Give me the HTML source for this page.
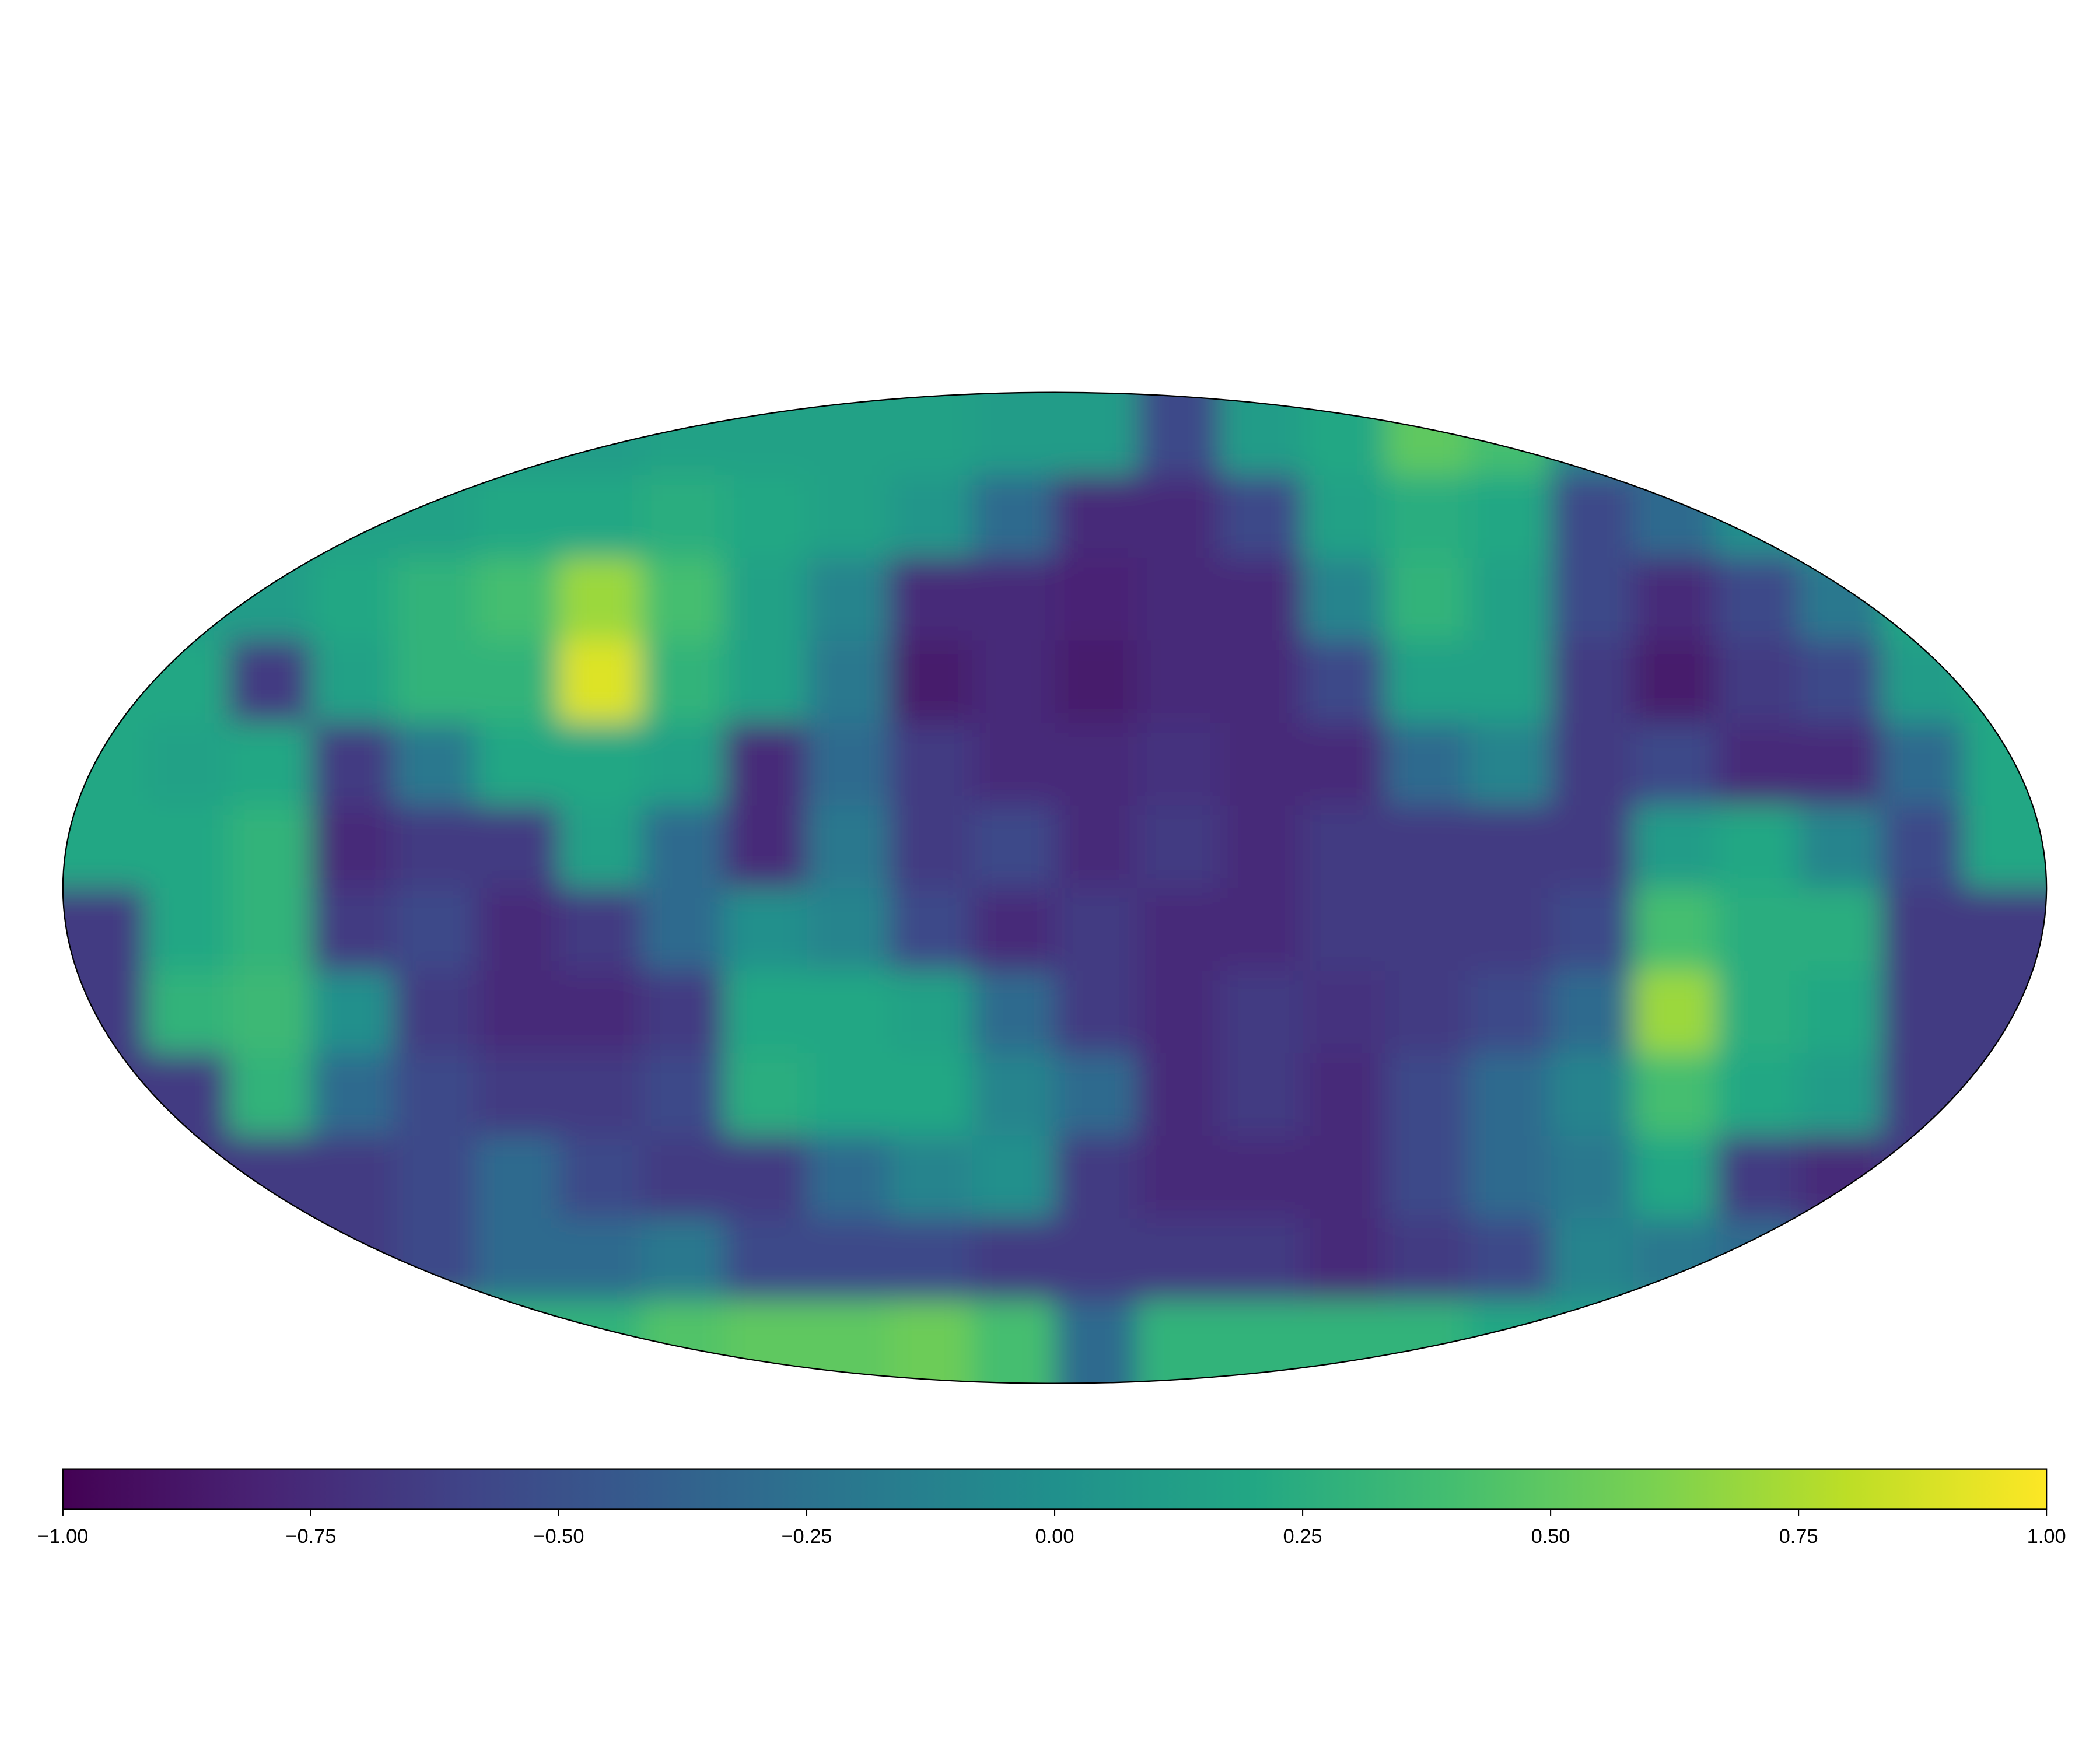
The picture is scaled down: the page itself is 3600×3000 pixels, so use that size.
<!DOCTYPE html>
<html><head><meta charset="utf-8"><style>
html,body{margin:0;padding:0;background:#fff;}
svg{display:block;}
</style></head><body>
<svg id="chart" width="3600" height="3000" viewBox="0 0 1568 1306.67" xmlns="http://www.w3.org/2000/svg">
<defs>
<clipPath id="ellclip"><ellipse cx="787.5" cy="663" rx="740.5" ry="370"/></clipPath>
<filter id="blur" x="-10%" y="-10%" width="120%" height="120%"><feGaussianBlur stdDeviation="11"/></filter>
<linearGradient id="cbgrad" x1="0" x2="1" y1="0" y2="0"></linearGradient>
</defs>
<g clip-path="url(#ellclip)">
<g id="cells" filter="url(#blur)"></g>
</g>
<ellipse cx="787.5" cy="663" rx="740.5" ry="370" fill="none" stroke="#000" stroke-width="1"/>
<rect x="47" y="1097" width="1481" height="30" fill="url(#cbgrad)" stroke="#000" stroke-width="1"/>
<g id="ticks"></g>
</svg>
<script>
const gridRows = [
[0.1,0.1,0.1,0.1,0.1,0.1,0.1,0.15,0.15,0.15,0.15,0.1,0.1,-0.55,0.1,0.2,0.5,0.4,-0.1,-0.3,-0.3,-0.3,-0.3,-0.3],
[0.1,0.1,0.1,0.15,0.15,0.2,0.2,0.25,0.2,0.15,0.05,-0.3,-0.75,-0.75,-0.55,0.15,0.25,0.2,-0.55,-0.3,0.0,0.1,0.1,0.1],
[0.1,0.1,0.1,0.2,0.3,0.4,0.7,0.4,0.15,-0.1,-0.75,-0.75,-0.8,-0.75,-0.75,-0.1,0.3,0.15,-0.55,-0.75,-0.55,-0.2,0.2,0.2],
[0.2,0.2,-0.65,0.15,0.3,0.3,0.9,0.3,0.15,-0.2,-0.85,-0.75,-0.85,-0.75,-0.75,-0.55,0.15,0.15,-0.65,-0.85,-0.65,-0.55,0.1,0.2],
[0.2,0.15,0.2,-0.65,-0.2,0.2,0.2,0.15,-0.75,-0.3,-0.65,-0.75,-0.75,-0.7,-0.75,-0.75,-0.3,-0.1,-0.65,-0.55,-0.75,-0.75,-0.3,0.2],
[0.2,0.2,0.3,-0.75,-0.65,-0.65,0.15,-0.3,-0.75,-0.2,-0.65,-0.55,-0.75,-0.65,-0.75,-0.65,-0.65,-0.65,-0.65,0.1,0.2,-0.1,-0.55,0.2],
[-0.65,0.2,0.3,-0.65,-0.55,-0.75,-0.65,-0.3,0.0,-0.1,-0.55,-0.75,-0.65,-0.75,-0.75,-0.65,-0.65,-0.65,-0.55,0.4,0.25,0.25,-0.65,-0.65],
[-0.65,0.3,0.35,0.0,-0.65,-0.75,-0.75,-0.65,0.2,0.2,0.15,-0.3,-0.65,-0.75,-0.65,-0.7,-0.65,-0.55,-0.3,0.7,0.25,0.2,-0.65,-0.65],
[-0.65,-0.65,0.3,-0.3,-0.55,-0.65,-0.65,-0.55,0.25,0.2,0.2,-0.1,-0.3,-0.75,-0.65,-0.75,-0.55,-0.3,-0.1,0.4,0.2,0.1,-0.65,-0.65],
[-0.65,-0.65,-0.65,-0.65,-0.55,-0.3,-0.55,-0.65,-0.65,-0.3,-0.1,0.0,-0.65,-0.75,-0.75,-0.75,-0.55,-0.3,-0.2,0.2,-0.65,-0.75,-0.65,-0.65],
[-0.65,-0.65,-0.65,-0.65,-0.55,-0.3,-0.3,-0.2,-0.55,-0.55,-0.55,-0.65,-0.65,-0.65,-0.65,-0.75,-0.65,-0.55,-0.1,-0.2,-0.3,-0.55,-0.55,-0.55],
[0.3,0.3,0.3,0.3,0.3,0.3,0.3,0.45,0.5,0.5,0.55,0.4,-0.3,0.3,0.3,0.3,0.3,0.2,0.1,0.1,0.1,0.1,0.1,0.1]
];
const tickValues = [-1,-0.75,-0.5,-0.25,0,0.25,0.5,0.75,1];
const tickLabels = ["\u22121.00","\u22120.75","\u22120.50","\u22120.25","0.00","0.25","0.50","0.75","1.00"];

const VIR = [[68,1,84],[72,35,116],[64,67,135],[52,94,141],[41,120,142],[32,144,140],[34,167,132],[68,190,112],[121,209,81],[189,222,38],[253,231,37]];
function viridis(t){
  t=Math.max(0,Math.min(1,t));
  const p=t*(VIR.length-1), i=Math.min(Math.floor(p),VIR.length-2), f=p-i;
  const c=VIR[i].map((v,k)=>Math.round(v+(VIR[i+1][k]-v)*f));
  return `rgb(${c[0]},${c[1]},${c[2]})`;
}
const vmin=-1,vmax=1;
const colorOf=v=>viridis((v-vmin)/(vmax-vmin));
const NS="http://www.w3.org/2000/svg";
const x0=47,x1=1528,y0=293,y1=1033;
const nC=gridRows[0].length,nR=gridRows.length;
const cw=(x1-x0)/nC,ch=(y1-y0)/nR;
const cellsG=document.getElementById('cells');
gridRows.forEach((row,r)=>{
  row.forEach((v,c)=>{
    const rect=document.createElementNS(NS,'rect');
    let x=x0+c*cw,y=y0+r*ch,w=cw+0.5,h=ch+0.5;
    if(c===0){x-=60;w+=60;} if(c===nC-1){w+=60;}
    if(r===0){y-=60;h+=60;} if(r===nR-1){h+=60;}
    rect.setAttribute('x',x);rect.setAttribute('y',y);
    rect.setAttribute('width',w);rect.setAttribute('height',h);
    rect.setAttribute('fill',colorOf(v));
    
    
    cellsG.appendChild(rect);
  });
});
const grad=document.getElementById('cbgrad');
for(let i=0;i<=40;i++){
  const s=document.createElementNS(NS,'stop');
  s.setAttribute('offset',(i/40*100)+'%');
  s.setAttribute('stop-color',viridis(i/40));
  grad.appendChild(s);
}
const tg=document.getElementById('ticks');
const cbx=v=>47+(v-vmin)/(vmax-vmin)*1481;
tickValues.forEach((v,i)=>{
  const x=cbx(v);
  const l=document.createElementNS(NS,'line');
  l.setAttribute('x1',x);l.setAttribute('x2',x);l.setAttribute('y1',1127);l.setAttribute('y2',1132);
  l.setAttribute('stroke','#000');l.setAttribute('stroke-width','0.9');
  
  
  tg.appendChild(l);
  const t=document.createElementNS(NS,'text');
  t.setAttribute('x',x);t.setAttribute('y',1152);t.setAttribute('text-anchor','middle');
  t.setAttribute('font-family','"Liberation Sans", "DejaVu Sans", sans-serif');
  t.setAttribute('font-size','15');t.setAttribute('fill','#000');
  t.textContent=tickLabels[i];
  
  
  tg.appendChild(t);
});
</script>
</body></html>
